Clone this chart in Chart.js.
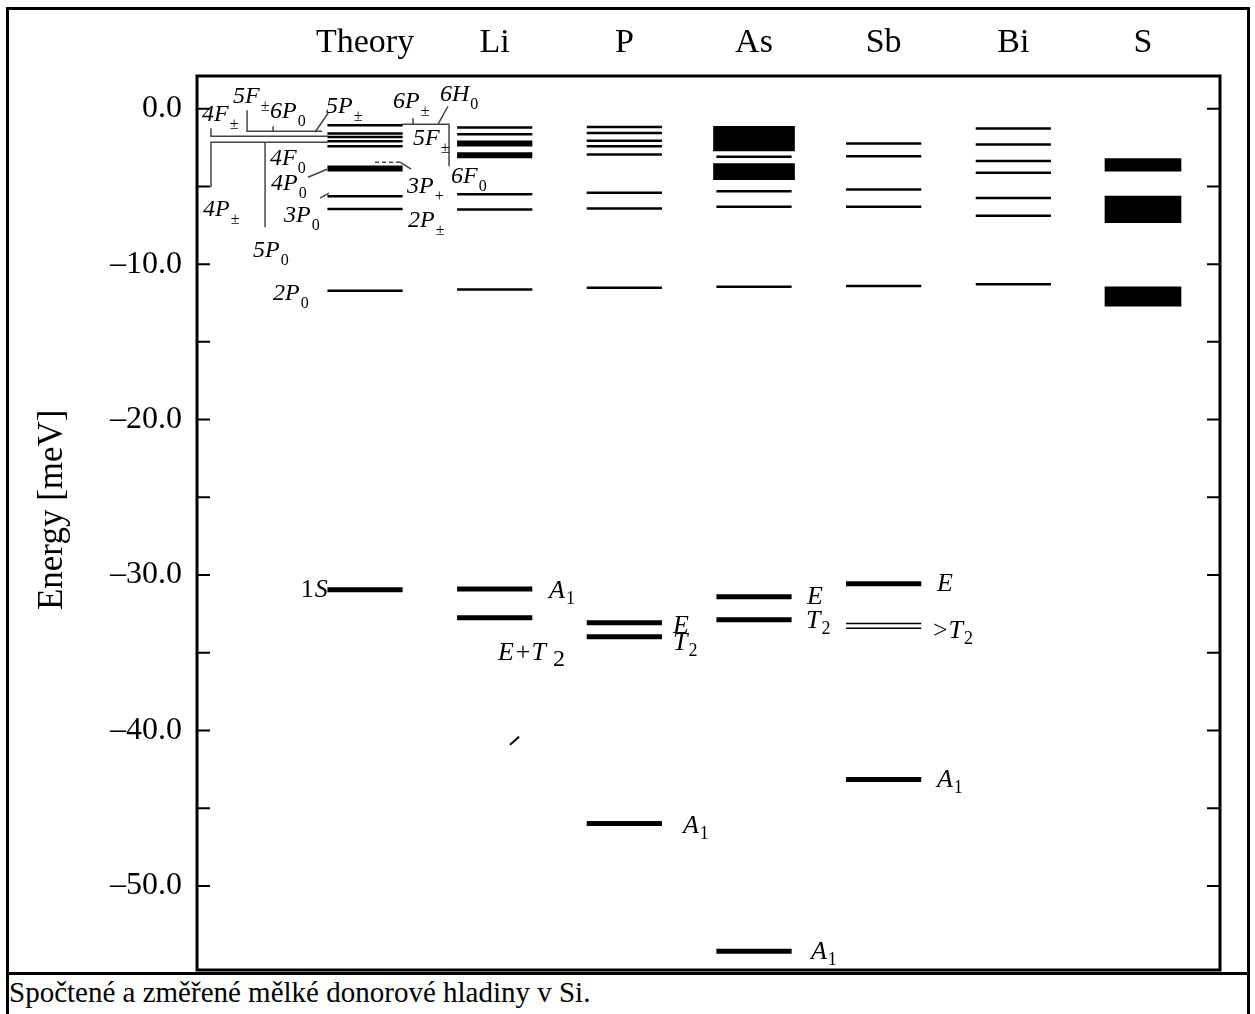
<!DOCTYPE html>
<html>
<head>
<meta charset="utf-8">
<script src="https://cdn.jsdelivr.net/npm/chart.js@4.4.0/dist/chart.umd.min.js"></script>
<style>
html,body{margin:0;padding:0;background:#fff;width:1255px;height:1014px;overflow:hidden;}
#frame{position:absolute;left:6px;top:7px;width:1244px;height:1012px;border:3px solid #000;box-sizing:border-box;}
#sep{position:absolute;left:6px;top:972px;width:1244px;height:0;border-top:3px solid #000;}
#caption{position:absolute;left:9px;top:976px;font:29px/32px "Liberation Serif","Times New Roman",serif;color:#000;white-space:nowrap;}
#wrap{position:absolute;left:0;top:0;width:1255px;height:972px;}
</style>
</head>
<body>
<div id="frame"></div>
<div id="sep"></div>
<div id="caption">Spočtené a změřené mělké donorové hladiny v Si.</div>
<div id="wrap"><canvas id="c" width="1255" height="972"></canvas></div>
<script>
// ---------- data ----------
const categories = ['Theory', 'Li', 'P', 'As', 'Sb', 'Bi', 'S'];
const yTickValues = [0, -10, -20, -30, -40, -50];
const yMinorTickValues = [-5, -15, -25, -35, -45];
const yTitle = 'Energy [meV]';

// energies in meV
const theoryLevels = [-1.07, -1.60, -1.82, -2.09, -2.42, -5.63, -6.46, -11.71];
const theoryBold = [-3.85];
const theoryGround = [-30.95];
const liLevels = [-1.22, -1.65, -5.50, -6.49, -11.63];
const liBold = [-2.24, -3.00];
const liGround = [-30.90, -32.75];
const pLevels = [-1.18, -1.56, -2.07, -2.42, -2.95, -5.41, -6.42, -11.52];
const pGround = [-33.07, -33.97, -45.98];
const asLevels = [-3.10, -5.31, -6.31, -11.46];
const asBands = [[-2.72, -1.13], [-4.56, -3.53]];
const asGround = [-31.40, -32.87, -54.20];
const sbLevels = [-2.24, -3.06, -5.20, -6.31, -11.41];
const sbGround = [-30.56, -43.15];
const sbSplit = [-33.12, -33.42];
const biLevels = [-1.28, -2.31, -3.36, -4.13, -5.74, -6.89, -11.30];
const sBands = [[-4.02, -3.21], [-7.34, -5.63], [-12.70, -11.46]];

// state labels: anchor (category units, meV)
const stateLabels = [
  {x: -1.257, y: -0.810, main: '4F', sub: '±'},
  {x: -1.018, y: 0.347, main: '5F', sub: '±'},
  {x: -0.733, y: -0.617, main: '6P', sub: '0'},
  {x: -0.301, y: -0.296, main: '5P', sub: '±'},
  {x: 0.216, y: 0.026, main: '6P', sub: '±'},
  {x: 0.578, y: 0.475, main: '6H', sub: '0'},
  {x: 0.370, y: -2.352, main: '5F', sub: '±'},
  {x: -0.733, y: -3.637, main: '4F', sub: '0'},
  {x: -0.725, y: -5.243, main: '4P', sub: '0'},
  {x: 0.324, y: -5.436, main: '3P', sub: '+'},
  {x: 0.663, y: -4.793, main: '6F', sub: '0'},
  {x: -0.625, y: -7.299, main: '3P', sub: '0'},
  {x: 0.332, y: -7.621, main: '2P', sub: '±'},
  {x: -1.249, y: -6.908, main: '4P', sub: '±'},
  {x: -0.864, y: -9.543, main: '5P', sub: '0'},
  {x: -0.710, y: -12.306, main: '2P', sub: '0'},
  {x: -0.495, y: -31.395, pre: '1', main: 'S', big: true},
  {x: 1.419, y: -31.459, main: 'A', sub: '1', big: true},
  {x: 1.026, y: -35.443, main: 'E+T', sub: '2', big: true, subBig: true},
  {x: 2.375, y: -33.708, main: 'E', big: true},
  {x: 2.375, y: -34.800, main: 'T', sub: '2', big: true},
  {x: 3.409, y: -31.844, main: 'E', big: true},
  {x: 3.401, y: -33.386, main: 'T', sub: '2', big: true},
  {x: 4.411, y: -31.009, main: 'E', big: true},
  {x: 4.380, y: -34.029, pre: '>', main: 'T', sub: '2', big: true},
  {x: 2.452, y: -46.559, main: 'A', sub: '1', big: true},
  {x: 3.439, y: -54.719, main: 'A', sub: '1', big: true},
  {x: 4.411, y: -43.600, main: 'A', sub: '1', big: true}
];

// leader lines (category units, meV)
const leaderLines = [
  [[-1.188, -1.259], [-1.188, -1.773], [-0.285, -1.773]],
  [[-0.910, -0.103], [-0.910, -1.452], [-0.332, -1.452]],
  [[-0.709, -1.131], [-0.709, -1.452]],
  [[-0.285, -0.296], [-0.386, -1.516]],
  [[-1.188, -5.05], [-1.188, -2.159], [-0.285, -2.159]],
  [[-0.771, -2.159], [-0.771, -7.621]],
  [[0.370, -0.617], [0.370, -1.002]],
  [[0.285, -1.002], [0.648, -1.002], [0.648, -3.701]],
  [[0.640, 0.154], [0.563, -1.002]],
  [[0.270, -3.444], [0.355, -3.894]],
  [[-0.440, -4.408], [-0.293, -3.894]],
  [[-0.347, -5.757], [-0.278, -5.436]]
];
const dashedLeaders = [[[0.077, -3.444], [0.270, -3.444]]];
const strayMarks = [[[1.118, -40.907], [1.188, -40.393]]];

// ---------- build ----------
const HALF = 0.29;
function lineSet(ci, levels, width) {
  const pts = [];
  levels.forEach(E => {
    pts.push({x: ci - HALF, y: E}, {x: ci + HALF, y: E}, {x: ci, y: null});
  });
  return {type: 'line', data: pts, borderColor: '#000', borderWidth: width,
          pointRadius: 0, spanGaps: false, fill: false, borderCapStyle: 'butt', tension: 0};
}
function bandSet(ci, bands, thick) {
  return {type: 'bar', data: bands.map(b => ({x: ci, y: b})), backgroundColor: '#000',
          borderWidth: 0, barThickness: thick, grouped: false};
}
const datasets = [
  lineSet(0, theoryLevels, 2.5), lineSet(0, theoryBold, 6), lineSet(0, theoryGround, 5),
  lineSet(1, liLevels, 2.5), lineSet(1, liBold, 6), lineSet(1, liGround, 5),
  lineSet(2, pLevels, 2.5), lineSet(2, pGround, 5),
  lineSet(3, asLevels, 2.5), bandSet(3, asBands, 81), lineSet(3, asGround, 5),
  lineSet(4, sbLevels, 2.5), lineSet(4, sbGround, 5), lineSet(4, sbSplit, 1.5),
  lineSet(5, biLevels, 2.5),
  bandSet(6, sBands, 76)
];

const SERIF = '"Liberation Serif","Times New Roman",serif';
function drawState(ctx, px, py, l) {
  const ms = l.big ? 26 : 24, ss = l.subBig ? 24 : (l.big ? 18 : 16);
  let x = px;
  ctx.textBaseline = 'alphabetic';
  ctx.textAlign = 'left';
  if (l.pre) {
    ctx.font = `${ms}px ${SERIF}`;
    ctx.fillText(l.pre, x, py);
    x += ctx.measureText(l.pre).width + 1;
  }
  ctx.font = `italic ${ms}px ${SERIF}`;
  ctx.fillText(l.main, x, py);
  x += ctx.measureText(l.main).width + 1;
  if (l.sub) {
    ctx.font = `${ss}px ${SERIF}`;
    ctx.fillText(l.sub, x + (l.subBig ? 6 : 0), py + (l.big ? 6 : 8));
  }
}

const decor = {
  id: 'decor',
  afterDraw(chart) {
    const {ctx, chartArea: a, scales: {x, y}} = chart;
    const P = p => [x.getPixelForValue(p[0]), y.getPixelForValue(p[1])];
    ctx.save();
    ctx.strokeStyle = '#000';
    ctx.lineWidth = 3;
    ctx.strokeRect(a.left, a.top, a.right - a.left, a.bottom - a.top);
    ctx.lineWidth = 2;
    [...yTickValues, ...yMinorTickValues].forEach(v => {
      const py = y.getPixelForValue(v);
      ctx.beginPath();
      ctx.moveTo(a.left, py); ctx.lineTo(a.left + 13, py);
      ctx.moveTo(a.right, py); ctx.lineTo(a.right - 13, py);
      ctx.stroke();
    });
    function poly(list, color, w, dash) {
      ctx.strokeStyle = color; ctx.lineWidth = w; ctx.setLineDash(dash || []);
      list.forEach(seg => {
        ctx.beginPath();
        seg.forEach((p, i) => { const [qx, qy] = P(p); i ? ctx.lineTo(qx, qy) : ctx.moveTo(qx, qy); });
        ctx.stroke();
      });
      ctx.setLineDash([]);
    }
    poly(leaderLines, '#444', 1.5);
    poly(dashedLeaders, '#444', 1.5, [4, 3]);
    poly(strayMarks, '#000', 2);
    ctx.fillStyle = '#000';
    stateLabels.forEach(l => { const [qx, qy] = P([l.x, l.y]); drawState(ctx, qx, qy, l); });
    // y-axis title
    ctx.save();
    ctx.translate(53, y.getPixelForValue(-25.8));
    ctx.rotate(-Math.PI / 2);
    ctx.textAlign = 'center';
    ctx.textBaseline = 'middle';
    ctx.font = `35px ${SERIF}`;
    ctx.fillText(yTitle, 0, 0);
    ctx.restore();
    ctx.restore();
  }
};

new Chart(document.getElementById('c'), {
  type: 'line',
  data: {datasets},
  options: {
    responsive: false,
    animation: false,
    events: [],
    layout: {padding: {left: 8, top: 0, right: 35, bottom: 2}},
    plugins: {legend: {display: false}, tooltip: {enabled: false}},
    scales: {
      x: {
        type: 'linear', position: 'top', min: -1.296, max: 6.594, offset: false,
        afterBuildTicks: s => { s.ticks = categories.map((c, i) => ({value: i})); },
        afterFit: s => { s.height = 76; s.paddingLeft = 0; s.paddingRight = 0; },
        grid: {display: false, drawTicks: false, offset: false},
        border: {display: false},
        ticks: {
          callback: v => categories[v] ?? '',
          autoSkip: false, maxRotation: 0, padding: 13, color: '#000',
          font: {family: SERIF, size: 34}
        }
      },
      y: {
        type: 'linear', min: -55.4, max: 2.1, beginAtZero: false,
        afterBuildTicks: s => { s.ticks = yTickValues.map(v => ({value: v})); },
        afterFit: s => { s.width = 189; s.paddingTop = 0; s.paddingBottom = 0; },
        grid: {display: false, drawTicks: false},
        border: {display: false},
        ticks: {
          callback: v => (v < 0 ? '–' : '') + Math.abs(v).toFixed(1),
          padding: 15, color: '#000', font: {family: SERIF, size: 32}
        },
        title: {display: false}
      }
    }
  },
  plugins: [decor]
});
</script>
</body>
</html>
